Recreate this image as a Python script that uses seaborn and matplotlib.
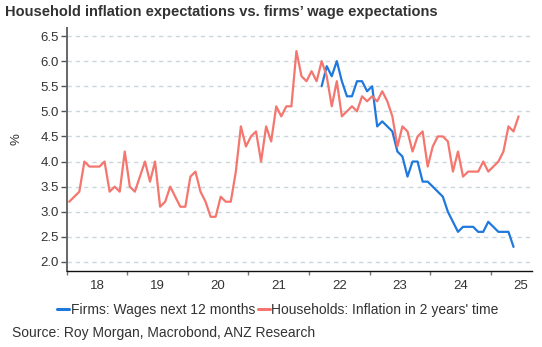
import numpy as np
import pandas as pd
import matplotlib
matplotlib.use("Agg")
import matplotlib.pyplot as plt
import seaborn as sns
from matplotlib.lines import Line2D

# Monthly data, starting Jan 2018
households = [3.2, 3.3, 3.4, 4.0, 3.9, 3.9, 3.9, 4.0, 3.4, 3.5, 3.4, 4.2,
              3.5, 3.4, 3.7, 4.0, 3.6, 4.0, 3.1, 3.2, 3.5, 3.3, 3.1, 3.1,
              3.7, 3.8, 3.4, 3.2, 2.9, 2.9, 3.3, 3.2, 3.2, 3.8, 4.7, 4.3,
              4.5, 4.6, 4.0, 4.7, 4.4, 5.1, 4.9, 5.1, 5.1, 6.2, 5.7, 5.6,
              5.8, 5.6, 6.0, 5.7, 5.1, 5.6, 4.9, 5.0, 5.1, 5.0, 5.3, 5.2,
              5.3, 5.2, 5.4, 5.2, 4.9, 4.3, 4.7, 4.6, 4.2, 4.5, 4.6, 3.9,
              4.3, 4.5, 4.5, 4.4, 3.8, 4.2, 3.7, 3.8, 3.8, 3.8, 4.0, 3.8,
              3.9, 4.0, 4.2, 4.7, 4.6, 4.9]
firms_start = 50  # March 2022
firms = [5.5, 5.9, 5.7, 6.0, 5.6, 5.3, 5.3, 5.6, 5.6, 5.4, 5.5, 4.7,
         4.8, 4.7, 4.6, 4.2, 4.1, 3.7, 4.0, 4.0, 3.6, 3.6, 3.5, 3.4,
         3.3, 3.0, 2.8, 2.6, 2.7, 2.7, 2.7, 2.6, 2.6, 2.8, 2.7, 2.6,
         2.6, 2.6, 2.3]
year_labels = ["18", "19", "20", "21", "22", "23", "24", "25"]
yticks = [2.0, 2.5, 3.0, 3.5, 4.0, 4.5, 5.0, 5.5, 6.0, 6.5]

name_f = "Firms: Wages next 12 months"
name_h = "Households: Inflation in 2 years' time"

t_h = 2018 + (np.arange(len(households)) + 0.5) / 12
t_f = 2018 + (np.arange(len(firms)) + firms_start + 0.5) / 12
df = pd.concat([
    pd.DataFrame({"t": t_f, "v": firms, "series": name_f}),
    pd.DataFrame({"t": t_h, "v": households, "series": name_h}),
])

sns.set_theme(style="white")
plt.rcParams["font.family"] = ["Liberation Sans", "DejaVu Sans"]

fig = plt.figure(figsize=(5.42, 3.47), dpi=100)
ax = fig.add_axes([66.7 / 542, 76.5 / 347, (532 - 66.7) / 542, (270.5 - 28) / 347])

palette = {name_f: "#1f78dc", name_h: "#f4766e"}
sns.lineplot(data=df, x="t", y="v", hue="series", palette=palette,
             linewidth=1.6, ax=ax, legend=False)

ax.set_xlim(2018.0, 2025.68)
ax.set_ylim(1.83, 6.66)

for y in yticks:
    ax.axhline(y, color="#c9d7dc", lw=1.0, ls=(0, (3, 3)), zorder=0)

ax.set_yticks(yticks)
ax.set_yticklabels([f"{y:.1f}" for y in yticks])
ax.tick_params(axis="y", which="major", length=4, width=1, color="#555555",
               labelsize=9.5, labelcolor="#333333", pad=1.5, left=True)

years = list(range(2018, 2026))
ax.set_xticks(years)
ax.set_xticklabels([""] * len(years))
ax.set_xticks([y + 0.5 for y in years], minor=True)
ax.set_xticklabels(year_labels, minor=True)
ax.tick_params(axis="x", which="major", length=3, width=1, color="#777777",
               bottom=True)
ax.tick_params(axis="x", which="minor", length=0, labelsize=9.5,
               labelcolor="#333333", pad=6.5)

ax.set_xlabel("")
ax.set_ylabel("%", fontsize=9.5, color="#333333")
ax.yaxis.set_label_coords(-0.095, 0.54)

for s in ["top", "right"]:
    ax.spines[s].set_visible(False)
ax.spines["left"].set_color("#666666")
ax.spines["left"].set_linewidth(1.4)
ax.spines["bottom"].set_color("#111111")
ax.spines["bottom"].set_linewidth(1.0)

handles = [Line2D([], [], color=palette[name_f], lw=2.2),
           Line2D([], [], color=palette[name_h], lw=2.2)]
fig.legend(handles, [name_f, name_h], loc="center", ncol=2,
           bbox_to_anchor=(278 / 542, 1 - 310 / 347), frameon=False,
           fontsize=10, handlelength=0.85, handletextpad=0.12,
           columnspacing=0.2, labelcolor="#333333", borderaxespad=0)

fig.text(5 / 542, 1 - 12 / 347,
         "Household inflation expectations vs. firms\u2019 wage expectations",
         fontsize=10.5, fontweight="bold", color="#333333", va="center", ha="left")
fig.text(12 / 542, 1 - 333 / 347, "Source: Roy Morgan, Macrobond, ANZ Research",
         fontsize=10, color="#333333", va="center", ha="left")

fig.savefig("out.png", dpi=100)
